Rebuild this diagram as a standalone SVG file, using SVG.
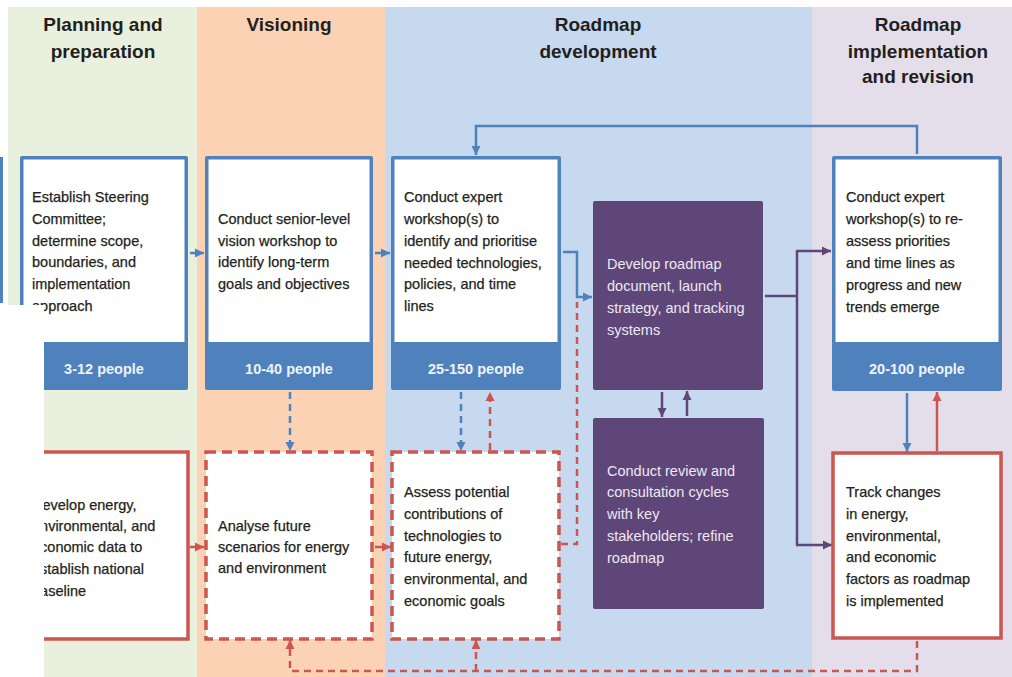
<svg xmlns="http://www.w3.org/2000/svg" width="1012" height="677" viewBox="0 0 1012 677">
<style>
.hdr{font-family:"Liberation Sans",Arial,sans-serif;font-size:19px;font-weight:bold;fill:#231f20;text-anchor:middle}
.t{font-family:"Liberation Sans",Arial,sans-serif;font-size:14.5px;fill:#231f20;stroke:#231f20;stroke-width:0.25}
.tw{font-family:"Liberation Sans",Arial,sans-serif;font-size:14.5px;fill:#eee8f3}
.ft{font-family:"Liberation Sans",Arial,sans-serif;font-size:14.5px;font-weight:bold;fill:#eef3fa;text-anchor:middle}
.bo{fill:#4f81bd}
.wi{fill:#ffffff}
.pu{fill:#5f4678}
.rs{fill:#ffffff;stroke:#cd554f;stroke-width:3.5}
.rd{fill:#ffffff;stroke:#cd554f;stroke-width:3.5;stroke-dasharray:10 6}
.cb{fill:none;stroke:#4f81bd;stroke-width:2.5}
.cbd{fill:none;stroke:#4f81bd;stroke-width:2.5;stroke-dasharray:7 5}
.cr{fill:none;stroke:#cd554f;stroke-width:2.5}
.crd{fill:none;stroke:#cd554f;stroke-width:2.5;stroke-dasharray:7 5}
.cp{fill:none;stroke:#5f4678;stroke-width:2.5}
</style>
<defs>
<marker id="ab" markerUnits="userSpaceOnUse" markerWidth="10" markerHeight="10" refX="9" refY="5" orient="auto"><path d="M0,0.5 L9,5 L0,9.5 z" fill="#4f81bd"/></marker>
<marker id="ar" markerUnits="userSpaceOnUse" markerWidth="10" markerHeight="10" refX="9" refY="5" orient="auto"><path d="M0,0.5 L9,5 L0,9.5 z" fill="#cd554f"/></marker>
<marker id="ap" markerUnits="userSpaceOnUse" markerWidth="10" markerHeight="10" refX="9" refY="5" orient="auto"><path d="M0,0.5 L9,5 L0,9.5 z" fill="#5f4678"/></marker>
<clipPath id="vis"><path d="M0 0H1012V677H44V305H0Z"/></clipPath>
</defs>
<rect width="1012" height="677" fill="#ffffff"/>
<g id="bands">
<rect x="8" y="7" width="189" height="670" fill="#e9f0de"/>
<rect x="197" y="7" width="188" height="670" fill="#fbd3b4"/>
<rect x="385" y="7" width="427" height="670" fill="#c6d9ee"/>
<rect x="812" y="7" width="200" height="670" fill="#e4deeb"/>
<rect x="0" y="305" width="44" height="372" fill="#ffffff"/>
<rect x="0" y="157" width="3" height="146" fill="#4f81bd"/>
</g>
<g id="headers">
<text class="hdr" x="103" y="31">Planning and</text>
<text class="hdr" x="103" y="58">preparation</text>
<text class="hdr" x="289" y="31">Visioning</text>
<text class="hdr" x="598" y="31">Roadmap</text>
<text class="hdr" x="598" y="58">development</text>
<text class="hdr" x="918" y="31">Roadmap</text>
<text class="hdr" x="918" y="58">implementation</text>
<text class="hdr" x="918" y="83">and revision</text>
</g>
<g id="connectors">
<path class="cb" d="M190 253H204" marker-end="url(#ab)"/>
<path class="cb" d="M375 253H390" marker-end="url(#ab)"/>
<path class="cb" d="M563 252H577V297H592" marker-end="url(#ab)"/>
<path class="cb" d="M917 154V126H476V155" marker-end="url(#ab)"/>
<path class="cbd" d="M290 392V451" marker-end="url(#ab)"/>
<path class="cbd" d="M461 392V451" marker-end="url(#ab)"/>
<path class="crd" d="M490 450V392" marker-end="url(#ar)"/>
<path class="cr" d="M190 547H204" marker-end="url(#ar)"/>
<path class="cr" d="M375 547H391" marker-end="url(#ar)"/>
<path class="crd" d="M561 544H577V302"/>
<path class="cb" d="M907 393V452" marker-end="url(#ab)"/>
<path class="cr" d="M937 451V392" marker-end="url(#ar)"/>
<path class="cp" d="M765 296H797"/>
<path class="cp" d="M797 251V545"/>
<path class="cp" d="M796 251H831" marker-end="url(#ap)"/>
<path class="cp" d="M796 545H832" marker-end="url(#ap)"/>
<path class="cp" d="M662 392V417" marker-end="url(#ap)"/>
<path class="cp" d="M687 416V391" marker-end="url(#ap)"/>
<path class="crd" d="M917 641V671H290V640" marker-end="url(#ar)"/>
<path class="crd" d="M476 671V640" marker-end="url(#ar)"/>
</g>
<g id="n1" clip-path="url(#vis)">
<rect class="bo" x="20" y="156" width="168" height="234" rx="2"/>
<rect class="wi" x="23.5" y="159.5" width="161" height="182.5"/>
<text class="t" x="32" y="202">Establish Steering</text>
<text class="t" x="32" y="224">Committee;</text>
<text class="t" x="32" y="246">determine scope,</text>
<text class="t" x="32" y="267">boundaries, and</text>
<text class="t" x="32" y="289">implementation</text>
<text class="t" x="32" y="311">approach</text>
<text class="ft" x="104" y="374">3-12 people</text>
</g>
<g id="n2">
<rect class="bo" x="205" y="156" width="168" height="234" rx="2"/>
<rect class="wi" x="208.5" y="159.5" width="161" height="182.5"/>
<text class="t" x="218" y="224">Conduct senior-level</text>
<text class="t" x="218" y="246">vision workshop to</text>
<text class="t" x="218" y="267">identify long-term</text>
<text class="t" x="218" y="289">goals and objectives</text>
<text class="ft" x="289" y="374">10-40 people</text>
</g>
<g id="n3">
<rect class="bo" x="391" y="156" width="170" height="234" rx="2"/>
<rect class="wi" x="394.5" y="159.5" width="163" height="182.5"/>
<text class="t" x="404" y="202">Conduct expert</text>
<text class="t" x="404" y="224">workshop(s) to</text>
<text class="t" x="404" y="246">identify and prioritise</text>
<text class="t" x="404" y="268">needed technologies,</text>
<text class="t" x="404" y="289">policies, and time</text>
<text class="t" x="404" y="311">lines</text>
<text class="ft" x="476" y="374">25-150 people</text>
</g>
<g id="n4">
<rect class="bo" x="832" y="156" width="170" height="235" rx="2"/>
<rect class="wi" x="835.5" y="159.5" width="163" height="182.5"/>
<text class="t" x="846" y="202">Conduct expert</text>
<text class="t" x="846" y="224">workshop(s) to re-</text>
<text class="t" x="846" y="246">assess priorities</text>
<text class="t" x="846" y="268">and time lines as</text>
<text class="t" x="846" y="290">progress and new</text>
<text class="t" x="846" y="312">trends emerge</text>
<text class="ft" x="917" y="374">20-100 people</text>
</g>
<g id="p1">
<rect class="pu" x="593" y="201" width="170" height="189" rx="2"/>
<text class="tw" x="607" y="269">Develop roadmap</text>
<text class="tw" x="607" y="291">document, launch</text>
<text class="tw" x="607" y="313">strategy, and tracking</text>
<text class="tw" x="607" y="335">systems</text>
</g>
<g id="p2">
<rect class="pu" x="593" y="418" width="171" height="191" rx="2"/>
<text class="tw" x="607" y="476">Conduct review and</text>
<text class="tw" x="607" y="497">consultation cycles</text>
<text class="tw" x="607" y="519">with key</text>
<text class="tw" x="607" y="541">stakeholders; refine</text>
<text class="tw" x="607" y="563">roadmap</text>
</g>
<g id="r1" clip-path="url(#vis)">
<rect class="rs" x="20" y="452" width="168" height="187"/>
<text class="t" x="32" y="510">Develop energy,</text>
<text class="t" x="32" y="531">environmental, and</text>
<text class="t" x="32" y="552">economic data to</text>
<text class="t" x="32" y="574">establish national</text>
<text class="t" x="32" y="596">baseline</text>
</g>
<g id="r2">
<rect class="rd" x="206" y="452" width="166" height="187"/>
<text class="t" x="218" y="531">Analyse future</text>
<text class="t" x="218" y="552">scenarios for energy</text>
<text class="t" x="218" y="573">and environment</text>
</g>
<g id="r3">
<rect class="rd" x="392" y="452" width="167" height="187"/>
<text class="t" x="404" y="497">Assess potential</text>
<text class="t" x="404" y="519">contributions of</text>
<text class="t" x="404" y="541">technologies to</text>
<text class="t" x="404" y="562">future energy,</text>
<text class="t" x="404" y="584">environmental, and</text>
<text class="t" x="404" y="606">economic goals</text>
</g>
<g id="r4">
<rect class="rs" x="833" y="453" width="168" height="185"/>
<text class="t" x="846" y="497">Track changes</text>
<text class="t" x="846" y="519">in energy,</text>
<text class="t" x="846" y="541">environmental,</text>
<text class="t" x="846" y="562">and economic</text>
<text class="t" x="846" y="584">factors as roadmap</text>
<text class="t" x="846" y="606">is implemented</text>
</g>
</svg>
